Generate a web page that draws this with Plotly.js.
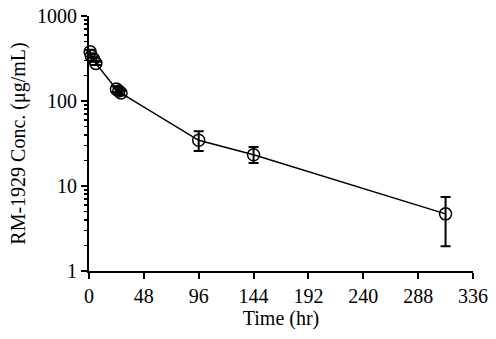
<!DOCTYPE html>
<html>
<head>
<meta charset="utf-8">
<script src="https://cdn.plot.ly/plotly-3.0.1.min.js"></script>
<style>html,body{margin:0;padding:0;background:#fff;}#chart{width:496px;height:339px;}</style>
</head>
<body>
<div id="chart"></div>
<script>
const timeHr = [1, 2, 4, 6, 24, 26, 28, 96, 144, 312];
const concMean = [380, 338, 312, 277, 138, 131, 124, 34.5, 23.3, 4.7];
const errPlus = [20, 15, 15, 12, 10, 8, 8, 9.5, 5.5, 2.7];
const errMinus = [20, 15, 15, 12, 10, 8, 8, 8.7, 4.6, 2.75];
const xTicks = [0, 48, 96, 144, 192, 240, 288, 336];
const yTicks = [1, 10, 100, 1000];
const yTickText = ['1', '10', '100', '1000'];
const yMinorTicks = [2,3,4,5,6,7,8,9,20,30,40,50,60,70,80,90,200,300,400,500,600,700,800,900];

const font = {family: 'Liberation Serif, Times New Roman, serif', size: 20, color: '#000'};

Plotly.newPlot('chart', [{
  x: timeHr, y: concMean, type: 'scatter', mode: 'lines+markers',
  line: {color: '#000', width: 1.5},
  marker: {symbol: 'circle-open', size: 12, color: '#000', line: {width: 1.5, color: '#000'}},
  error_y: {type: 'data', symmetric: false, array: errPlus, arrayminus: errMinus, color: '#000', thickness: 2, width: 5},
  cliponaxis: false
}], {
  width: 496, height: 339,
  margin: {l: 89, r: 23, t: 16, b: 68},
  paper_bgcolor: '#fff', plot_bgcolor: '#fff',
  showlegend: false,
  font: font,
  xaxis: {
    range: [0, 336], tickvals: xTicks, ticktext: xTicks.map(String),
    showgrid: false, zeroline: false, showline: true, linecolor: '#000', linewidth: 2,
    ticks: 'outside', ticklen: 6, tickwidth: 2, tickcolor: '#000',
    tickfont: font,
    title: {text: 'Time (hr)', font: font, standoff: 2}
  },
  yaxis: {
    type: 'log', range: [0, 3], tickvals: yTicks, ticktext: yTickText,
    showgrid: false, zeroline: false, showline: true, linecolor: '#000', linewidth: 2,
    ticks: 'outside', ticklen: 6, tickwidth: 2, tickcolor: '#000',
    minor: {tickvals: yMinorTicks, ticks: 'outside', ticklen: 3, tickwidth: 1.5, tickcolor: '#000', showgrid: false},
    tickfont: font,
    title: {text: 'RM-1929 Conc. (μg/mL)', font: font, standoff: 6}
  }
}, {displayModeBar: false, staticPlot: true});
</script>
</body>
</html>
